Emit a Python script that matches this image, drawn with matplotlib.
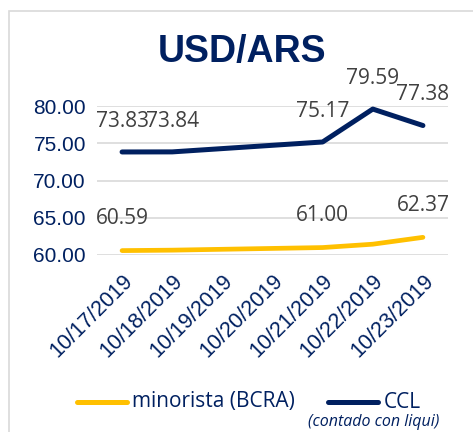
import matplotlib.pyplot as plt
import numpy as np
from matplotlib.lines import Line2D
from matplotlib.patches import Rectangle

# Datos (fines de semana sin cotizacion)
fechas = ['10/17/2019', '10/18/2019', '10/19/2019', '10/20/2019',
          '10/21/2019', '10/22/2019', '10/23/2019']
minorista = [60.59, 60.65, np.nan, np.nan, 61.00, 61.45, 62.37]
ccl = [73.83, 73.84, np.nan, np.nan, 75.17, 79.59, 77.38]
etiquetas_min = [0, 4, 6]
etiquetas_ccl = [0, 1, 4, 5, 6]

azul = '#002060'
amarillo = '#FFC000'
gris = '#404040'

W, H = 473, 432
fig = plt.figure(figsize=(W / 100, H / 100), dpi=100)
fig.patch.set_facecolor('white')

# marco del grafico
fig.patches.append(Rectangle((9 / W, -0.1), 1.2, 1 - 11 / H + 0.1, transform=fig.transFigure,
                             fill=False, edgecolor='#d9d9d9', linewidth=1.2))

ax = fig.add_axes([97 / W, 1 - 255 / H, 351 / W, 149 / H])
x = np.arange(len(fechas))
m = np.array(minorista)
c = np.array(ccl)
ok_m = ~np.isnan(m)
ok_c = ~np.isnan(c)

ax.plot(x[ok_m], m[ok_m], color=amarillo, lw=3.4, solid_capstyle='round', zorder=3)
ax.plot(x[ok_c], c[ok_c], color=azul, lw=3.6, solid_capstyle='round', zorder=3)

for i in etiquetas_min:
    ax.annotate(f'{m[i]:.2f}', (x[i], m[i]), xytext=(0, 23), textcoords='offset points',
                ha='center', va='center', fontsize=15, color=gris, family='Open Sans',
                annotation_clip=False)
for i in etiquetas_ccl:
    ax.annotate(f'{c[i]:.2f}', (x[i], c[i]), xytext=(0, 22), textcoords='offset points',
                ha='center', va='center', fontsize=15, color=gris, family='Open Sans',
                annotation_clip=False)

ax.set_xlim(-0.5, len(fechas) - 0.5)
ax.set_ylim(60, 80)
ax.set_yticks([60, 65, 70, 75, 80])
ax.set_yticklabels([f'{v:.2f}' for v in [60, 65, 70, 75, 80]],
                   fontsize=15, color=azul, family='Liberation Sans')
ax.set_xticks(x)
ax.set_xticklabels(fechas, rotation=45, ha='right', rotation_mode='anchor',
                   fontsize=15.5, color=azul, family='Liberation Sans')
ax.tick_params(length=0, pad=8)
ax.tick_params(axis='x', pad=11)
for s in ax.spines.values():
    s.set_visible(False)
ax.grid(axis='y', color='#d9d9d9', lw=1.2)
ax.set_axisbelow(True)

fig.text(242 / W, 1 - 52 / H, 'USD/ARS', ha='center', va='center', fontsize=27,
         fontweight='bold', color=azul, family='Liberation Sans')

# leyenda
yl = 1 - 402 / H
fig.lines.append(Line2D([77 / W, 127 / W], [yl, yl], transform=fig.transFigure,
                        color=amarillo, lw=3.6, solid_capstyle='round'))
fig.text(132 / W, yl, 'minorista (BCRA)', ha='left', va='center', fontsize=15,
         color=azul, family='Open Sans')
fig.lines.append(Line2D([328 / W, 378 / W], [yl, yl], transform=fig.transFigure,
                        color=azul, lw=3.6, solid_capstyle='round'))
fig.text(384 / W, yl, 'CCL', ha='left', va='center', fontsize=15,
         color=azul, family='Open Sans')
fig.text(439 / W, 1 - 422 / H, '(contado con liqui)', ha='right', va='center', fontsize=11.5,
         style='italic', color=azul, family='Open Sans')

fig.savefig('out.png', dpi=100)
